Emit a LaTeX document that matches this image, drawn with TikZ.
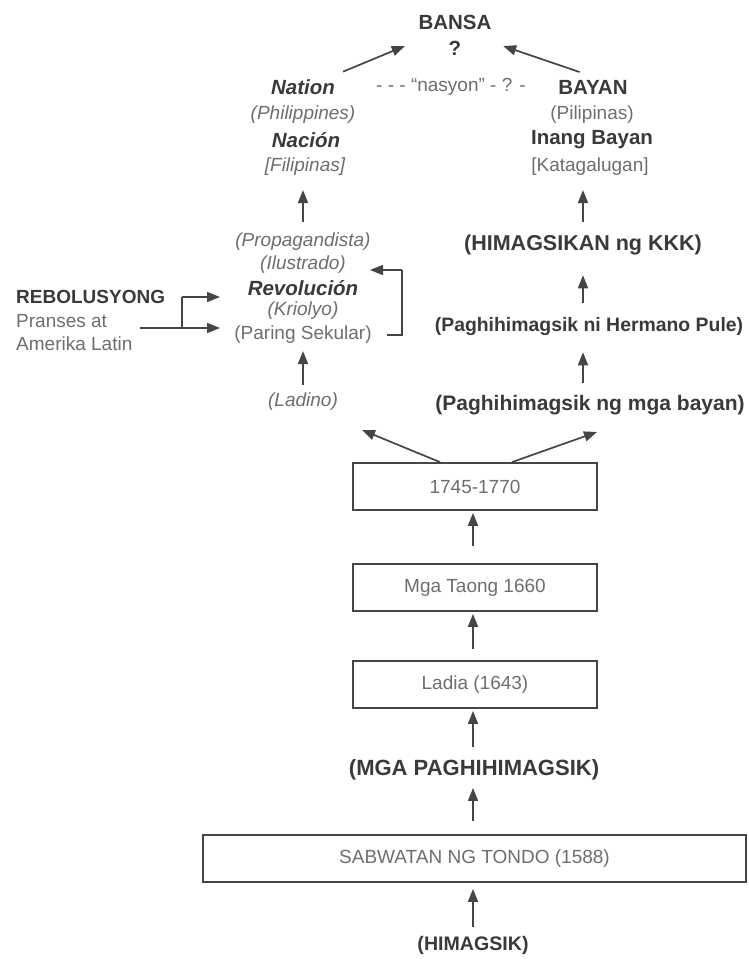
\documentclass[tikz,border=0pt]{standalone}
\usepackage{fontspec}
\setmainfont{Liberation Sans}
\usetikzlibrary{arrows.meta,calc}
\definecolor{inkb}{HTML}{3A3A3A}
\definecolor{inkr}{HTML}{6E6E6E}
\definecolor{linec}{HTML}{454545}
\newcommand{\fsz}[1]{\fontsize{#1}{#1}\selectfont}
\tikzset{
  txt/.style={inner sep=0pt, text=inkr, font=\fsz{19}},
  btxt/.style={inner sep=0pt, text=inkb, font=\fsz{20.5}\bfseries},
  bitxt/.style={inner sep=0pt, text=inkb, font=\fsz{20.5}\bfseries\itshape},
  itxt/.style={inner sep=0pt, text=inkr, font=\fsz{19}\itshape},
  arr/.style={draw=linec, line width=1.7pt, -{Triangle[length=13pt,width=10pt]}},
  pline/.style={draw=linec, line width=1.7pt},
  ebox/.style={draw=linec, line width=1.8pt, inner sep=0pt, text=inkr, font=\fsz{19}, minimum width=244pt, minimum height=47pt},
}
\begin{document}
\begin{tikzpicture}[x={(1pt,0)}, y={(0,-1pt)}]
\useasboundingbox (0,0) rectangle (749,959);
\fill[white] (0,0) rectangle (749,959);

% top
\node[btxt] (bansa) at (455,22) {BANSA};
\node[btxt] (q) at (455,48) {?};

% upper part
\node[bitxt] (nation) at (303,87) {Nation};
\node[txt] (nasyon) at (451,87) {- - - ``nasyon'' - ? -};
\node[btxt] (bayan) at (593,87) {BAYAN};
\node[itxt] (phil) at (303,115) {(Philippines)};
\node[txt] (pilip) at (592,115) {(Pilipinas)};
\node[bitxt] (nacion) at (306,140) {Nación};
\node[btxt] (inang) at (592,140) {Inang Bayan};
\node[itxt] (filip) at (305,167) {[Filipinas]};
\node[txt] (katag) at (590,167) {[Katagalugan]};

\draw[arr] ([shift={(8,-7.6)}]nation.north east) -- ([shift={(-43.7,-2)}]q.west);
\draw[arr] ([shift={(21.4,-7.7)}]bayan.north west) -- ([shift={(41.7,-2)}]q.east);

% left column middle
\node[itxt] (propa) at (303,242) {(Propagandista)};
\node[itxt] (ilus) at (303,265) {(Ilustrado)};
\node[bitxt] (revo) at (303,288) {Revolución};
\node[itxt] (krio) at (303,311) {(Kriolyo)};
\node[txt] (paring) at (303,335) {(Paring Sekular)};
\node[itxt] (ladino) at (303,402) {(Ladino)};

\draw[arr] ([shift={(0,-8)}]ladino.north) -- ([shift={(0,7)}]paring.south);
\draw[arr] ([shift={(0,-11)}]propa.north) -- ([shift={(0,14)}]filip.south -| propa.north);

% bracket
\coordinate (brtop) at (402,270);
\coordinate (brbot) at (402,335);
\coordinate (brtip) at (370,270);
\draw[pline] ([shift={(15,0)}]paring.east) -- (brbot) -- (brtop);
\draw[arr] (brtop) -- (brtip);

% REBOLUSYONG
\node[btxt, font=\fsz{19}\bfseries, anchor=west] (rebo) at (16,297) {REBOLUSYONG};
\node[txt, anchor=west] (pranses) at (16,321) {Pranses at};
\node[txt, anchor=west] (amerika) at (16,344) {Amerika Latin};
\coordinate (rsplit) at (182,328);
\coordinate (rtop) at (182,297);
\coordinate (rtail) at (140,328);
\coordinate (rtip1) at (220,297);
\coordinate (rtip2) at (220,328);
\draw[pline] (rsplit) -- (rtop);
\draw[arr] (rtop) -- (rtip1);
\draw[arr] (rtail) -- (rtip2);

% right column
\node[btxt, font=\fsz{21.5}\bfseries] (kkk) at (583,245) {(HIMAGSIKAN ng KKK)};
\node[btxt, font=\fsz{19.4}\bfseries] (pule) at (589,327) {(Paghihimagsik ni Hermano Pule)};
\node[btxt, font=\fsz{21}\bfseries] (bayanr) at (590,405) {(Paghihimagsik ng mga bayan)};

\draw[arr] ([shift={(0,-13)}]kkk.north) -- ([shift={(0,14)}]kkk.north |- katag.south);
\draw[arr] ([shift={(0,-15)}]pule.north -| kkk.north) -- ([shift={(0,20)}]kkk.south);
\draw[arr] ([shift={(0,-12)}]bayanr.north -| kkk.north) -- ([shift={(0,16)}]pule.south -| kkk.north);

% boxes
\node[ebox] (b1745) at (475,486.5) {1745-1770};
\node[ebox] (b1660) at (475,587.5) {Mga Taong 1660};
\node[ebox] (b1643) at (475,684.5) {Ladia (1643)};
\node[btxt, font=\fsz{22}\bfseries] (mga) at (474,770) {(MGA PAGHIHIMAGSIK)};
\node[ebox, minimum width=543pt] (tondo) at (474.5,858.5) {SABWATAN NG TONDO (1588)};
\node[btxt, font=\fsz{19.6}\bfseries] (himag) at (473,945) {(HIMAGSIK)};

\coordinate (lt) at (362,430);
\coordinate (rt) at (597,432);
\draw[arr] ([shift={(-35,0)}]b1745.north) -- (lt);
\draw[arr] ([shift={(37,0)}]b1745.north) -- (rt);

\draw[arr] ([shift={(-2,-17)}]b1660.north) -- ([shift={(-2,2)}]b1745.south);
\draw[arr] ([shift={(-2,-11)}]b1643.north) -- ([shift={(-2,2)}]b1660.south);
\draw[arr] ([shift={(-1,-12.5)}]mga.north) -- ([shift={(-2,2)}]b1643.south);
\draw[arr] ([shift={(-1.5,-13)}]tondo.north) -- ([shift={(-1,7.5)}]mga.south);
\draw[arr] ([shift={(0,-9)}]himag.north) -- ([shift={(-1.5,6)}]tondo.south);
\end{tikzpicture}
\end{document}
